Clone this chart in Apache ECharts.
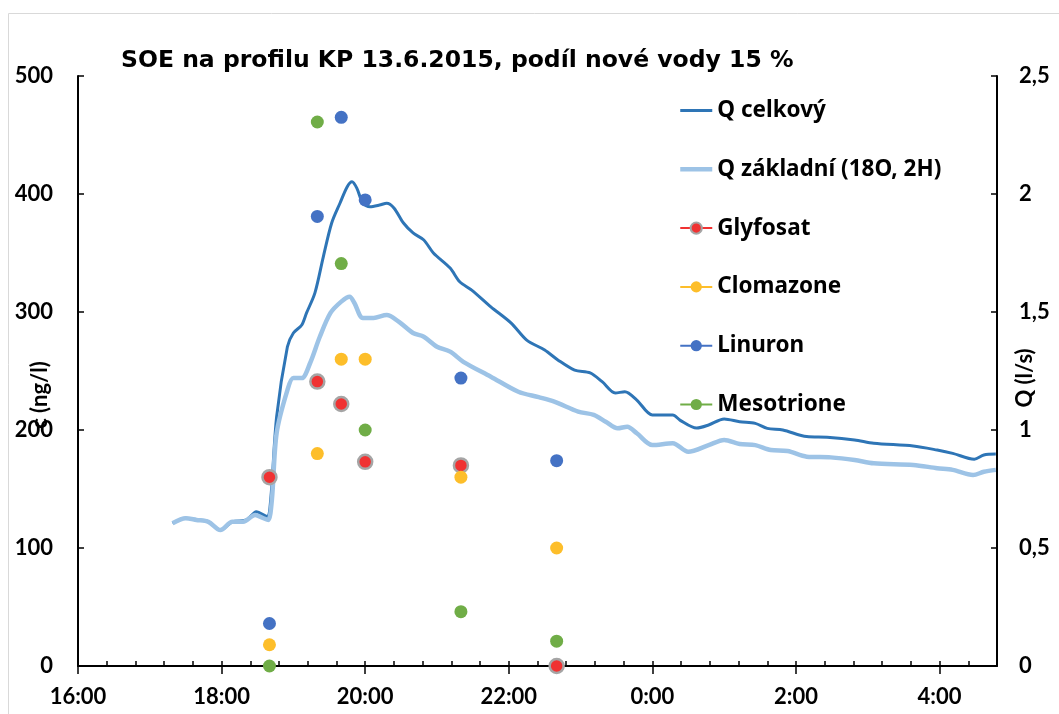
<!DOCTYPE html>
<html>
<head>
<meta charset="utf-8">
<script src="https://cdn.jsdelivr.net/npm/echarts@6/dist/echarts.min.js"></script>
<style>
  html, body { margin: 0; padding: 0; background: #fff; }
  #myChart { width: 1059px; height: 714px; }
</style>
</head>
<body>
<div id="myChart"></div>
<script>
// prutok - casy a hodnoty (l/s)
var qCelkovyTimes = ['17:19','17:30','17:39','17:49','17:59','18:09','18:21','18:29','18:38','18:41',
  '18:46','18:55','19:00','19:07','19:11','19:18','19:25','19:32','19:39','19:45',
  '19:49','19:53','19:58','20:04','20:12','20:18','20:24','20:32','20:40','20:49',
  '20:57','21:11','21:19','21:29','21:45','22:02','22:15','22:30','22:41','22:55',
  '23:08','23:18','23:29','23:37','23:47','0:00','0:17','0:23','0:37','0:47',
  '1:00','1:13','1:26','1:36','1:49','2:09','2:26','2:49','3:05','3:38',
  '3:58','4:11','4:29','4:37','4:47'];
var qCelkovy = [0.605,0.626,0.619,0.611,0.576,0.611,0.619,0.654,0.633,0.703,
  1.056,1.353,1.411,1.445,1.496,1.581,1.734,1.877,1.962,2.031,
  2.052,2.025,1.962,1.946,1.953,1.961,1.941,1.877,1.835,1.805,
  1.75,1.686,1.628,1.593,1.522,1.453,1.381,1.339,1.297,1.254,
  1.242,1.205,1.157,1.162,1.127,1.064,1.064,1.042,1.008,1.021,
  1.047,1.035,1.028,1.007,1.0,0.972,0.969,0.958,0.944,0.932,
  0.915,0.901,0.876,0.894,0.898];

var qZakladniTimes = ['17:19','17:30','17:39','17:49','17:59','18:09','18:18','18:28','18:35','18:39',
  '18:42','18:46','18:55','19:00','19:07','19:14','19:22','19:31','19:40','19:47',
  '19:51','19:58','20:07','20:18','20:28','20:40','20:49','21:00','21:11','21:22',
  '21:45','22:08','22:25','22:38','22:58','23:11','23:21','23:31','23:39','23:47',
  '0:00','0:17','0:30','0:47','1:00','1:13','1:26','1:39','1:53','2:09',
  '2:29','2:49','3:05','3:38','3:58','4:11','4:28','4:37','4:47'];
var qZakladni = [0.605,0.626,0.619,0.611,0.576,0.611,0.611,0.640,0.626,0.619,
  0.703,0.987,1.169,1.22,1.22,1.284,1.394,1.496,1.544,1.565,
  1.538,1.475,1.475,1.487,1.459,1.411,1.395,1.353,1.332,1.289,
  1.226,1.162,1.139,1.12,1.078,1.064,1.035,1.007,1.014,0.986,
  0.936,0.944,0.908,0.936,0.958,0.941,0.936,0.915,0.911,0.887,
  0.884,0.873,0.859,0.852,0.838,0.831,0.809,0.823,0.831];

// odbery vzorku - koncentrace (ng/l)
var sampleTimes = ['18:40','19:20','19:40','20:00','21:20','22:40'];
var glyfosat   = [160, 241, 222, 173, 170, 0];
var clomazone  = [18, 180, 260, 260, 160, 100];
var linuron    = [36, 381, 465, 395, 244, 174];
var mesotrione = [0, 461, 341, 200, 46, 21];

var xTicks = [16, 18, 20, 22, 24, 26, 28];

// cas -> hodiny od pulnoci prvniho dne
function toHours(s) {
  var p = s.split(':');
  var h = Number(p[0]);
  if (h < 12) h += 24;
  return h + Number(p[1]) / 60;
}
function pairs(times, vals) {
  return times.map(function (t, i) { return [toHours(t), vals[i]]; });
}

var FONT = 'Lato';
var labelStyle = { color: '#000', fontFamily: FONT, fontWeight: 'bold', fontSize: 22 };

function pointSeries(name, vals, color, border) {
  return {
    name: name,
    type: 'line',
    xAxisIndex: 0,
    yAxisIndex: 0,
    data: pairs(sampleTimes, vals),
    symbol: 'circle',
    symbolSize: border ? 14 : 13,
    clip: false,
    lineStyle: { width: 2, color: color, opacity: 0 },
    itemStyle: {
      color: color,
      borderColor: border || color,
      borderWidth: border ? 2.5 : 0
    },
    z: 5
  };
}

var myChart = echarts.init(document.getElementById('myChart'));
myChart.setOption({
  animation: false,
  title: {
    text: 'SOE na profilu KP 13.6.2015, podíl nové vody 15 %',
    left: 116,
    top: 44,
    textStyle: { color: '#000', fontFamily: 'DejaVu Sans', fontWeight: 'bold', fontSize: 23.5 }
  },
  graphic: [
    {
      type: 'rect',
      shape: { x: 8.5, y: 13.5, width: 1200, height: 800 },
      style: { fill: 'none', stroke: '#d9d9d9', lineWidth: 1 },
      silent: true
    },
    {
      type: 'text',
      x: 40, y: 395,
      rotation: Math.PI / 2,
      style: { text: 'c (ng/l)', fill: '#000', font: 'bold 22px Lato', textAlign: 'center', textVerticalAlign: 'middle' }
    },
    {
      type: 'text',
      x: 1025, y: 378,
      rotation: Math.PI / 2,
      style: { text: 'Q (l/s)', fill: '#000', font: 'bold 22px Lato', textAlign: 'center', textVerticalAlign: 'middle' }
    }
  ],
  legend: {
    orient: 'vertical',
    left: 673,
    top: 94,
    itemWidth: 32,
    itemHeight: 14,
    itemGap: 35.8,
    textStyle: { color: '#000', fontFamily: 'Noto Sans', fontWeight: 'bold', fontSize: 22.5, lineHeight: 22 },
    data: [
      { name: 'Q celkový', itemStyle: { opacity: 0 }, lineStyle: { width: 3 } },
      { name: 'Q základní (18O, 2H)', itemStyle: { opacity: 0 }, lineStyle: { width: 4.5 } },
      { name: 'Glyfosat', lineStyle: { opacity: 1, width: 2, color: '#f03232' } },
      { name: 'Clomazone', lineStyle: { opacity: 1, width: 2, color: '#fdbe2a' } },
      { name: 'Linuron', lineStyle: { opacity: 1, width: 2, color: '#4472c4' } },
      { name: 'Mesotrione', lineStyle: { opacity: 1, width: 2, color: '#70ad47' } }
    ]
  },
  grid: [
    { left: 78, right: 62, top: 76, bottom: 48 },
    { left: 78, right: 62, top: 76, bottom: 48 }
  ],
  xAxis: [
    {
      type: 'value',
      gridIndex: 0,
      min: 16,
      max: 28.8,
      interval: 0.4,
      axisLine: { onZero: false, lineStyle: { color: '#000', width: 2 } },
      axisTick: { inside: true, length: 5, lineStyle: { color: '#000', width: 1.5 } },
      splitLine: { show: false },
      axisLabel: Object.assign({
        margin: 20,
        formatter: function (v) {
          var r = Math.round(v);
          if (Math.abs(v - r) > 1e-6 || xTicks.indexOf(r) < 0) return '';
          return (r % 24) + ':00';
        }
      }, labelStyle)
    },
    {
      // hlavni znacky presahujici pod osu
      type: 'value',
      gridIndex: 1,
      min: 16,
      max: 28.8,
      interval: 2,
      axisLine: { show: false, onZero: false },
      axisTick: { inside: false, length: 8, customValues: xTicks, lineStyle: { color: '#000', width: 1.5 } },
      axisLabel: { show: false },
      splitLine: { show: false }
    }
  ],
  yAxis: [
    {
      type: 'value',
      gridIndex: 0,
      min: 0,
      max: 500,
      interval: 100,
      axisLine: { show: true, onZero: false, lineStyle: { color: '#000', width: 2 } },
      axisTick: { show: true, inside: true, length: 6, lineStyle: { color: '#000', width: 1.5 } },
      splitLine: { show: false },
      axisLabel: Object.assign({ margin: 25 }, labelStyle)
    },
    {
      type: 'value',
      gridIndex: 0,
      position: 'right',
      min: 0,
      max: 2.5,
      interval: 0.5,
      axisLine: { show: true, onZero: false, lineStyle: { color: '#000', width: 2 } },
      axisTick: { show: true, inside: true, length: 6, lineStyle: { color: '#000', width: 1.5 } },
      splitLine: { show: false },
      axisLabel: Object.assign({
        margin: 22,
        formatter: function (v) { return String(v).replace('.', ','); }
      }, labelStyle)
    },
    {
      type: 'value',
      gridIndex: 1,
      min: 0,
      max: 1,
      show: false
    }
  ],
  series: [
    {
      name: 'Q celkový',
      type: 'line',
      xAxisIndex: 0,
      yAxisIndex: 1,
      data: pairs(qCelkovyTimes, qCelkovy),
      symbol: 'none',
      smooth: 0.3,
      lineStyle: { color: '#2e75b6', width: 3 },
      itemStyle: { color: '#2e75b6' },
      z: 3
    },
    {
      name: 'Q základní (18O, 2H)',
      type: 'line',
      xAxisIndex: 0,
      yAxisIndex: 1,
      data: pairs(qZakladniTimes, qZakladni),
      symbol: 'none',
      smooth: 0.3,
      lineStyle: { color: '#9dc3e6', width: 4.5 },
      itemStyle: { color: '#9dc3e6' },
      z: 3
    },
    pointSeries('Glyfosat', glyfosat, '#f03232', '#a5a5a5'),
    pointSeries('Clomazone', clomazone, '#fdbe2a'),
    pointSeries('Linuron', linuron, '#4472c4'),
    pointSeries('Mesotrione', mesotrione, '#70ad47')
  ]
});
</script>
</body>
</html>
